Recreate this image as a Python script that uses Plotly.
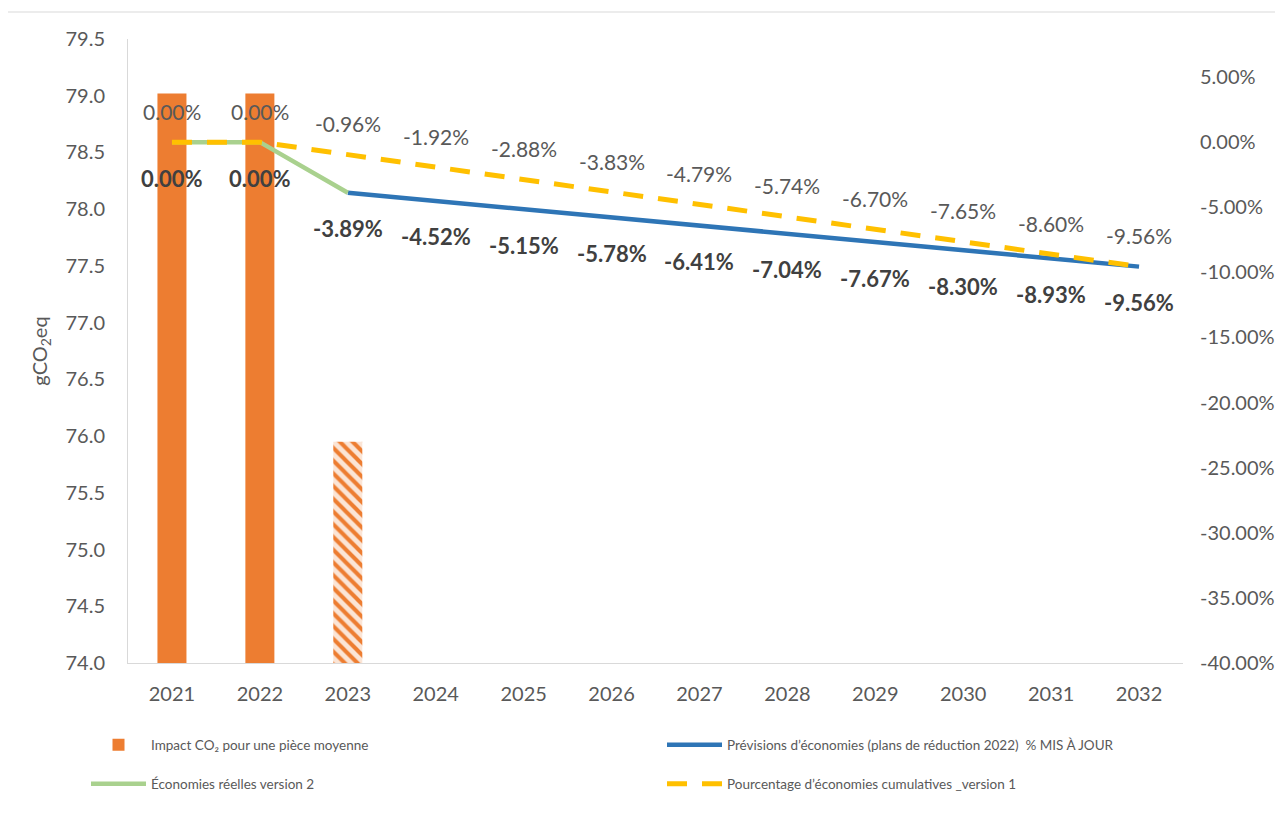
import plotly.graph_objects as go

years = [2021, 2022, 2023, 2024, 2025, 2026, 2027, 2028, 2029, 2030, 2031, 2032]
impact_years = [2021, 2022]
impact_values = [79.02, 79.02]
impact_est_years = [2023]
impact_est_values = [75.95]
reel_years = [2021, 2022, 2023]
reel_values = [0.0, 0.0, -3.89]
prev_years = [2023, 2024, 2025, 2026, 2027, 2028, 2029, 2030, 2031, 2032]
prev_values = [-3.89, -4.52, -5.15, -5.78, -6.41, -7.04, -7.67, -8.30, -8.93, -9.56]
cumul_values = [0.0, 0.0, -0.96, -1.92, -2.88, -3.83, -4.79, -5.74, -6.70, -7.65, -8.60, -9.56]

left_ticks = [74.0 + 0.5 * i for i in range(12)]
right_ticks = [-40 + 5 * i for i in range(10)]

FONT = "Lato, 'Open Sans', sans-serif"
GREY = "#595959"
DARK = "#404040"
ORANGE = "#ED7D31"

# page is drawn with an 8px body margin: compensate
OFF = 8
W, H = 1283 - OFF, 821 - OFF
L, R, T, B = 128 - OFF, 1183 - OFF, 39 - OFF, 663 - OFF
PW, PH = R - L, B - T


def px_x(p):
    return (p - OFF - L) / PW


def px_y(p):
    return (B - (p - OFF)) / PH


fig = go.Figure()

fig.add_trace(go.Bar(
    x=impact_years, y=impact_values, name="Impact CO₂ pour une pièce moyenne",
    width=0.33, marker=dict(color=ORANGE, line=dict(width=0)),
    yaxis="y", legend="legend", legendgroup="impact",
))
fig.add_trace(go.Bar(
    x=impact_est_years, y=impact_est_values, name="Impact CO₂ pour une pièce moyenne",
    width=0.33, showlegend=False, legendgroup="impact",
    marker=dict(color="#FBE5D6", line=dict(width=0),
                pattern=dict(shape="\\", fgcolor=ORANGE, bgcolor="#FBE5D6",
                             fillmode="replace", size=9, solidity=0.45)),
    yaxis="y",
))
fig.add_trace(go.Scatter(
    x=prev_years, y=prev_values, mode="lines",
    name="Prévisions d’économies (plans de réduction 2022)  % MIS À JOUR",
    line=dict(color="#2E75B6", width=4.5), yaxis="y2", legend="legend2",
))
fig.add_trace(go.Scatter(
    x=reel_years, y=reel_values, mode="lines",
    name="Économies réelles version 2",
    line=dict(color="#A9D18E", width=4.5), yaxis="y2", legend="legend3",
))
fig.add_trace(go.Scatter(
    x=years, y=cumul_values, mode="lines",
    name="Pourcentage d’économies cumulatives _version 1",
    line=dict(color="#FFC000", width=5, dash="20px,15px"), yaxis="y2", legend="legend4",
))

annotations = []
for xv, yv in zip(years, cumul_values):
    annotations.append(dict(x=xv, y=yv, xref="x", yref="y2", text=f"{yv:.2f}%",
                            showarrow=False, yshift=31,
                            font=dict(family=FONT, size=21, color=GREY)))
bold_x = reel_years[:2] + prev_years
bold_y = reel_values[:2] + prev_values
for xv, yv in zip(bold_x, bold_y):
    annotations.append(dict(x=xv, y=yv, xref="x", yref="y2", text=f"<b>{yv:.2f}%</b>",
                            showarrow=False, yshift=-36,
                            font=dict(family=FONT, size=22, color=DARK)))

leg_common = dict(orientation="v", xanchor="left", yanchor="middle", itemwidth=55,
                  bgcolor="rgba(0,0,0,0)", font=dict(family=FONT, size=13.5, color=GREY))

fig.update_layout(
    width=W, height=H,
    margin=dict(l=L, r=W - R, t=T, b=H - B, autoexpand=False),
    paper_bgcolor="white", plot_bgcolor="white",
    font=dict(family=FONT, size=20, color=GREY),
    showlegend=True,
    legend=dict(x=px_x(86), y=px_y(745), **leg_common),
    legend2=dict(x=px_x(662), y=px_y(745), **leg_common),
    legend3=dict(x=px_x(86), y=px_y(784), **leg_common),
    legend4=dict(x=px_x(662), y=px_y(784), **leg_common),
    xaxis=dict(range=[2020.5, 2032.5], tickvals=years, ticktext=[str(y) for y in years],
               showgrid=False, showline=True, linecolor="#D9D9D9", linewidth=1,
               zeroline=False, ticks="outside", ticklen=13, tickcolor="rgba(0,0,0,0)",
               tickfont=dict(size=20, color=GREY), automargin=False),
    yaxis=dict(range=[74.0, 79.5], tickvals=left_ticks,
               ticktext=[f"{v:.1f}" for v in left_ticks],
               showgrid=False, showline=True, linecolor="#D9D9D9", linewidth=1,
               zeroline=False, ticks="", tickfont=dict(size=20, color=GREY),
               automargin=False, ticklabelstandoff=18,
               title=dict(text="gCO<sub>2</sub>eq", font=dict(size=20, color=GREY), standoff=12)),
    yaxis2=dict(range=[-40, 7.92], overlaying="y", side="right", tickvals=right_ticks,
                ticktext=[f"{v:.2f}%" for v in right_ticks],
                showgrid=False, showline=False, zeroline=False, ticks="",
                automargin=False, ticklabelstandoff=16,
                tickfont=dict(size=20, color=GREY)),
    barmode="overlay",
    annotations=annotations,
    shapes=[dict(type="rect", xref="paper", yref="paper",
                 x0=px_x(7), x1=px_x(1300), y0=px_y(830), y1=px_y(12),
                 line=dict(color="#D9D9D9", width=1), fillcolor="rgba(0,0,0,0)", layer="below")],
)

fig.write_html("out.html")
